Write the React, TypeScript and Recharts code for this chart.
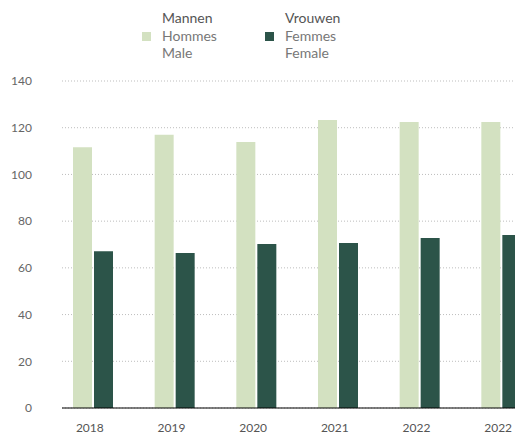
import { BarChart, Bar, XAxis, YAxis, CartesianGrid } from "recharts";

const years = ["2018", "2019", "2020", "2021", "2022", "2022"];
const male = [111.6, 117.0, 113.9, 123.3, 122.4, 122.4];
const female = [67.1, 66.4, 70.2, 70.6, 72.8, 74.1];
const yTicks = [0, 20, 40, 60, 80, 100, 120, 140];

const seriesLabels = [
  { key: "male", lines: ["Mannen", "Hommes", "Male"], color: "#d3e1c1" },
  { key: "female", lines: ["Vrouwen", "Femmes", "Female"], color: "#2c5449" },
];

const data = years.map((year, i) => ({
  year,
  male: male[i],
  female: female[i],
}));

const FONT = "Lato, 'Noto Sans', sans-serif";

const ChartLegend = () => (
  <div style={{ position: "absolute", left: 142, top: 9, display: "flex", fontFamily: FONT }}>
    {seriesLabels.map((s, i) => (
      <div key={s.key} style={{ display: "flex", width: i === 0 ? 123 : 120 }}>
        <div
          style={{
            width: 9,
            height: 9,
            marginTop: 23,
            marginRight: 11,
            background: s.color,
          }}
        />
        <div style={{ fontSize: 14, lineHeight: "17.5px" }}>
          {s.lines.map((l, j) => (
            <div key={j} style={{ color: j === 0 ? "#555" : "#777" }}>
              {l}
            </div>
          ))}
        </div>
      </div>
    ))}
  </div>
);

export default function App() {
  return (
    <div
      style={{
        position: "absolute",
        left: 0,
        top: 0,
        width: 515,
        height: 436,
        overflow: "hidden",
        background: "#fff",
      }}
    >
      <ChartLegend />
      <BarChart
        width={542}
        height={436}
        data={data}
        margin={{ top: 81, right: 0, bottom: 0, left: 0 }}
        barGap={2}
        barSize={19}
      >
        <CartesianGrid
          vertical={false}
          stroke="#bdbdbd"
          strokeDasharray="1 2"
        />
        <XAxis
          dataKey="year"
          height={28}
          padding={{ left: -10, right: 0 }}
          axisLine={{ stroke: "#000", strokeWidth: 1 }}
          tickLine={false}
          tickMargin={9}
          tick={{ fill: "#555", fontSize: 12, fontFamily: FONT, dx: -3 }}
        />
        <YAxis
          width={62}
          domain={[0, 140]}
          ticks={yTicks}
          axisLine={false}
          tickLine={false}
          tickMargin={24}
          tick={{ fill: "#666", fontSize: 12, fontFamily: FONT }}
        />
        <Bar dataKey="male" fill="#d3e1c1" isAnimationActive={false} />
        <Bar dataKey="female" fill="#2c5449" isAnimationActive={false} />
      </BarChart>
    </div>
  );
}
